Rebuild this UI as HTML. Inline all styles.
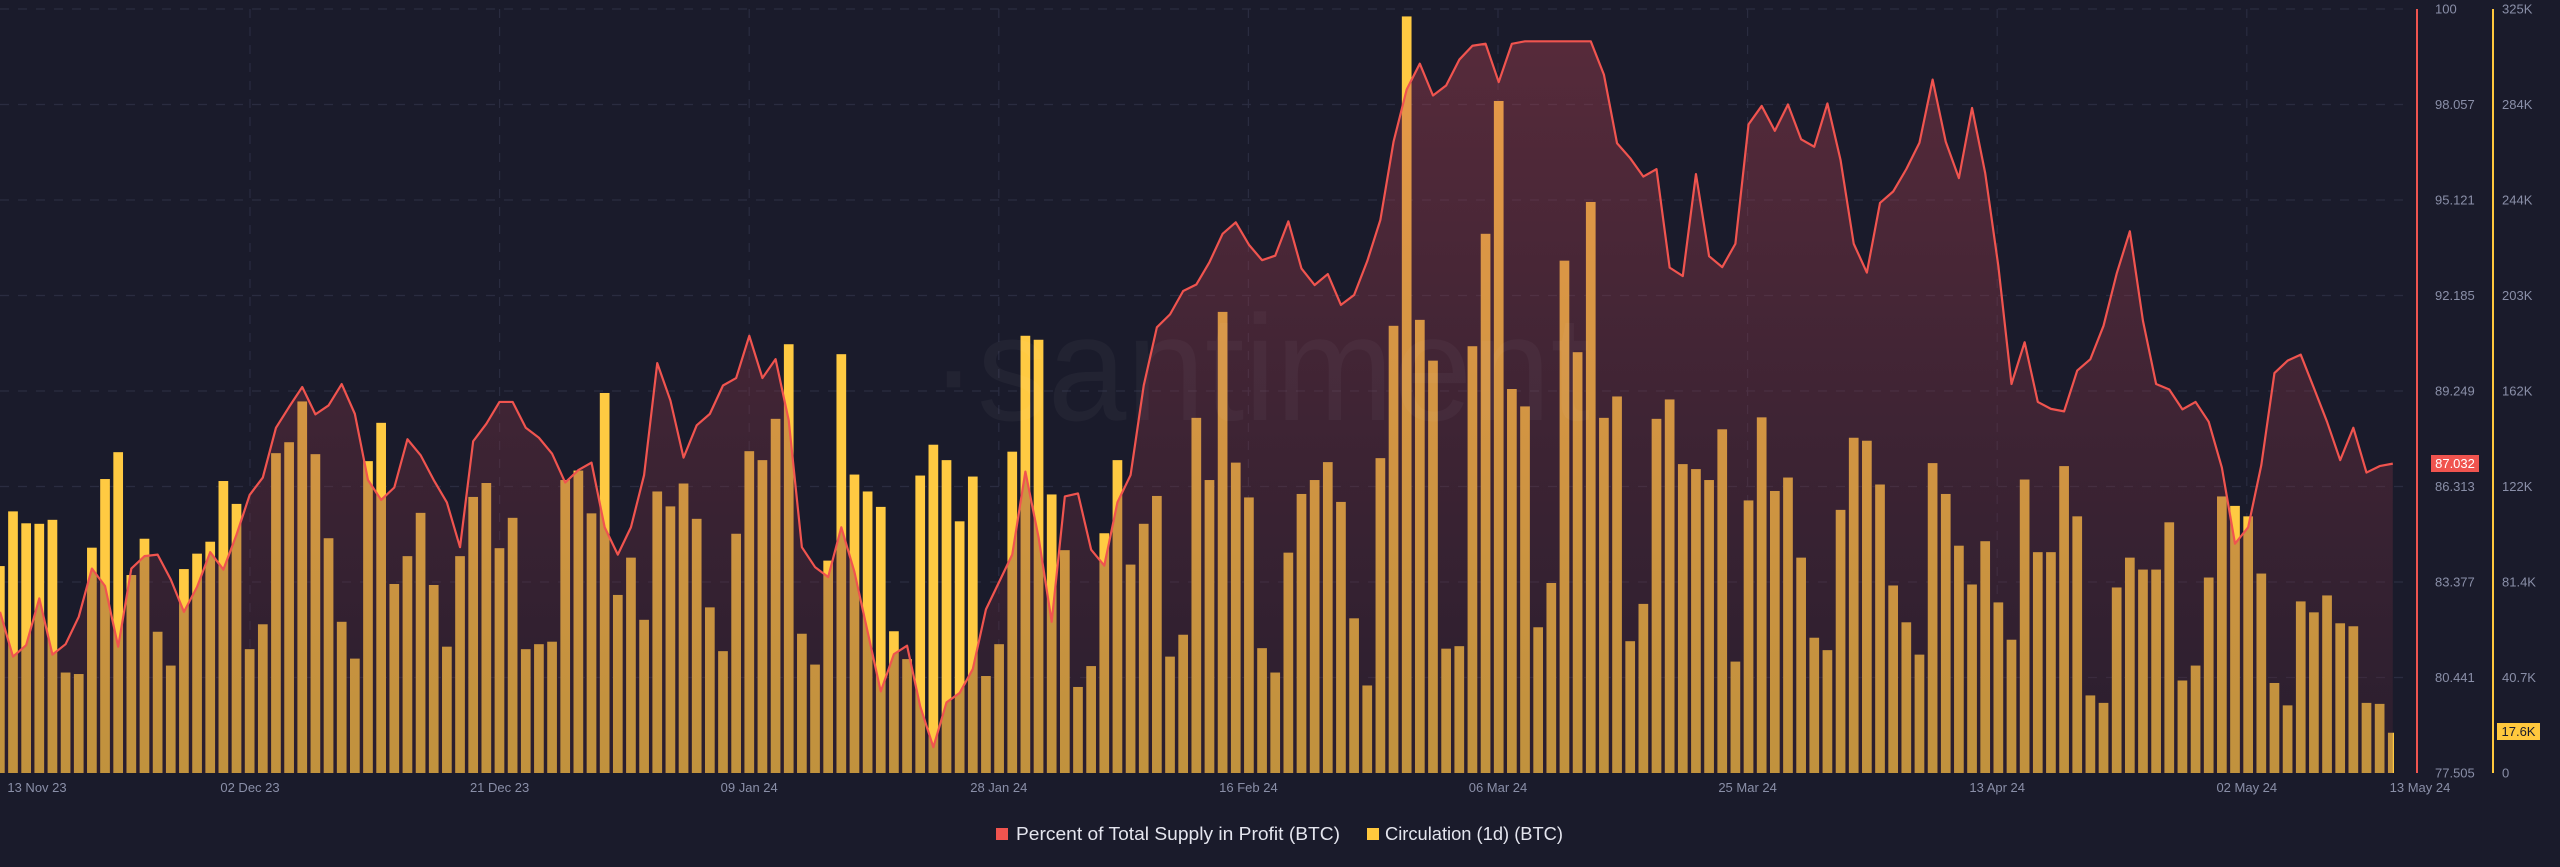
<!DOCTYPE html>
<html><head><meta charset="utf-8"><style>
html,body{margin:0;padding:0;background:#1a1b2b;}
svg{display:block;}
text{font-family:"Liberation Sans",Arial,sans-serif;}
</style></head><body>
<svg id="c" xmlns="http://www.w3.org/2000/svg" width="2560" height="867" viewBox="0 0 2560 867">
<defs>
<linearGradient id="ag" gradientUnits="userSpaceOnUse" x1="0" y1="30" x2="0" y2="773">
<stop offset="0" stop-color="rgb(191,69,85)" stop-opacity="0.37"/>
<stop offset="1" stop-color="rgb(72,36,52)" stop-opacity="0.34"/>
</linearGradient>
</defs>
<rect width="2560" height="867" fill="#1a1b2b"/>
<g id="grid"></g>
<g id="bars"></g>
<path id="area" fill="url(#ag)"/>
<text x="930" y="420" font-size="150" fill="#ffffff" fill-opacity="0.035" textLength="660" lengthAdjust="spacingAndGlyphs">·santiment</text>
<path id="line" fill="none" stroke="#f0544f" stroke-width="2.2" stroke-linejoin="round"/>
<line x1="2417" y1="9" x2="2417" y2="773" stroke="#f0544f" stroke-width="2"/>
<line x1="2493" y1="9" x2="2493" y2="773" stroke="#ffc83d" stroke-width="2"/>
<g id="labels" font-size="13" fill="#8a8fa8"></g>
<rect x="2431" y="455" width="48" height="17" fill="#f0544f"/>
<text x="2455" y="468" font-size="13" fill="#ffffff" text-anchor="middle">87.032</text>
<rect x="2497" y="723" width="43" height="17" fill="#ffc83d"/>
<text x="2518.5" y="736" font-size="13" fill="#1a1b2b" text-anchor="middle">17.6K</text>
<rect x="996" y="828" width="12" height="12" fill="#f0544f"/>
<text x="1016" y="840" font-size="18" fill="#e4e5ee" textLength="324" lengthAdjust="spacingAndGlyphs">Percent of Total Supply in Profit (BTC)</text>
<rect x="1367" y="828" width="12" height="12" fill="#ffc83d"/>
<text x="1385" y="840" font-size="18" fill="#e4e5ee" textLength="178" lengthAdjust="spacingAndGlyphs">Circulation (1d) (BTC)</text>
</svg>
<script>
var bars=[1138,1028,1052,1053,1045,1352,1355,1101,963,909,1156,1083,1270,1338,1144,1113,1089,967,1013,1305,1255,911,889,807,913,1082,1250,1324,927,850,1174,1118,1031,
1176,1300,1118,999,971,1102,1041,1305,1295,1290,965,946,1032,790,1196,1121,1246,988,1018,972,1043,1221,1309,1073,907,925,842,692,1274,1336,
1127,712,954,988,1019,1269,1325,956,894,925,1048,958,1359,1295,908,675,683,994,1106,1381,1339,1072,925,1135,1053,997,1320,1276,840,
965,627,930,1000,1303,1352,1111,993,965,929,1009,1243,1378,921,655,33,643,725,1304,1299,696,470,203,782,817,1261,1172,524,708,406,
840,797,1289,1214,842,803,933,943,965,863,1330,1006,839,987,960,1121,1282,1307,1025,880,886,974,1177,1251,1316,931,993,1097,1175,1088,
1211,1286,964,1110,1110,937,1038,1398,1413,1181,1121,1145,1145,1050,1368,1338,1161,998,1017,1038,1153,1373,1418,1209,1231,1197,1253,1259,1413,1415,1473];
var line=[1230,1320,1297,1203,1316,1295,1240,1143,1178,1300,1143,1118,1115,1165,1230,1180,1110,1145,1075,995,960,860,818,778,833,815,772,832,965,1005,980,883,915,
965,1010,1100,887,852,808,808,860,880,912,970,945,930,1060,1115,1060,955,730,805,920,855,832,775,760,675,760,722,845,1100,1140,
1160,1060,1150,1270,1390,1315,1298,1420,1502,1412,1393,1345,1225,1170,1115,948,1080,1250,998,992,1105,1137,1010,955,775,658,632,585,572,527,470,
447,492,523,514,445,540,573,551,613,593,525,442,285,180,128,192,172,120,92,88,165,88,83,83,83,83,83,83,
150,288,318,355,340,538,555,350,515,537,490,250,213,263,210,280,295,208,322,490,548,408,385,340,287,160,285,358,217,348,535,
772,688,808,822,827,745,722,655,550,465,645,772,783,823,808,848,940,1093,1060,935,750,725,713,780,848,925,860,950,937,932];
var S=2.0103,B=773,P=13.148,NS="http://www.w3.org/2000/svg";
function el(n,a,p){var e=document.createElementNS(NS,n);for(var k in a)e.setAttribute(k,a[k]);p.appendChild(e);return e;}
var g=document.getElementById('grid');
[9,104.5,200,295.5,391,486.5,582,677.5].forEach(function(y){el('line',{x1:0,x2:2410,y1:y,y2:y,stroke:'#2a2c40','stroke-width':1.2,'stroke-dasharray':'9 9'},g);});
for(var k=1;k<=9;k++){var x=250+249.6*(k-1);el('line',{x1:x,x2:x,y1:9,y2:773,stroke:'#2a2c40','stroke-width':1.2,'stroke-dasharray':'9 9'},g);}
var bg=document.getElementById('bars');
for(var i=0;i<bars.length;i++){var l=-5+P*i,w=9.7;if(l+w>2394)w=2394-l;var t=bars[i]/S;
el('rect',{x:l.toFixed(2),y:t.toFixed(2),width:w.toFixed(2),height:(B-t).toFixed(2),fill:'#ffca42'},bg);}
var pts=[];for(var i=0;i<line.length;i++){pts.push([(-5+P*i+4.85),line[i]/S]);}
pts[0][0]=0;
var d='M'+pts.map(function(p){return p[0].toFixed(2)+' '+p[1].toFixed(2);}).join(' L');
document.getElementById('line').setAttribute('d',d);
document.getElementById('area').setAttribute('d',d+' L'+pts[pts.length-1][0].toFixed(2)+' '+B+' L0 '+B+' Z');
var lb=document.getElementById('labels');
var ys=[9,104.5,200,295.5,391,486.5,582,677.5,773];
var lv=['100','98.057','95.121','92.185','89.249','86.313','83.377','80.441','77.505'];
var rv=['325K','284K','244K','203K','162K','122K','81.4K','40.7K','0'];
for(var j=0;j<9;j++){var t1=el('text',{x:2435,y:ys[j]+4.5},lb);t1.textContent=lv[j];var t2=el('text',{x:2502,y:ys[j]+4.5},lb);t2.textContent=rv[j];}
var dl=['13 Nov 23','02 Dec 23','21 Dec 23','09 Jan 24','28 Jan 24','16 Feb 24','06 Mar 24','25 Mar 24','13 Apr 24','02 May 24'];
for(var j=0;j<dl.length;j++){var x=j==0?37:250+249.6*(j-1);var t=el('text',{x:x,y:792,'text-anchor':'middle'},lb);t.textContent=dl[j];}
var t=el('text',{x:2420,y:792,'text-anchor':'middle'},lb);t.textContent='13 May 24';
</script>
</body></html>
